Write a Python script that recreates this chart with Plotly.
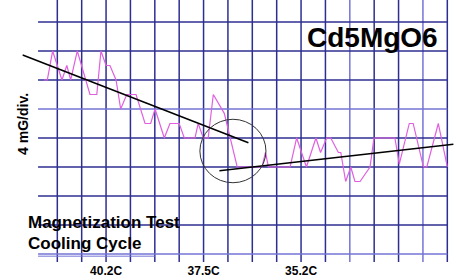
import plotly.graph_objects as go

# ---- data (x in grid divisions, y in mG; 4 mG per division) ----
x_div = [-0.55, -0.41, -0.19, 0.19, 0.39, 0.55, 0.82, 1.34, 1.62, 1.79, 2.00, 2.16,
         2.41, 2.60, 2.85, 3.23, 3.60, 3.83, 4.01, 4.39, 4.62, 5.00, 5.21, 5.65,
         5.78, 5.99, 6.19, 6.40, 6.85, 7.38, 7.50, 8.40, 8.54, 8.66, 9.55, 9.82,
         10.22, 10.61, 10.80, 11.05, 11.22, 11.53, 11.63, 11.83, 12.04, 12.21, 12.42,
         12.83, 12.99, 13.85, 14.03, 14.44, 14.60, 15.02, 15.16, 15.63, 16.00]
mag_mg = [24, 24, 28, 24, 26, 24, 28, 22, 22, 28, 26, 26,
          24, 20, 22, 22, 18, 18, 20, 16, 18, 18, 16, 16,
          18, 16, 16, 22, 19.4, 12, 12, 12, 14, 12, 12, 16,
          12, 16, 14, 16, 16, 14, 14, 10, 12, 10, 10,
          12, 16, 16, 12.4, 18, 18, 12, 12, 18, 12]

trend_high_x = [-1.42, 7.84]
trend_high_y = [27.45, 15.35]
trend_low_x = [6.65, 16.25]
trend_low_y = [11.49, 15.13]

circle_x = [5.85, 8.56]
circle_y = [9.83, 18.58]

tick_vals = [2, 6, 10]
tick_text = ["40.2C", "37.5C", "35.2C"]

grid_x = list(range(0, 17))
grid_y = list(range(0, 33, 4))

title_text = "Cd5MgO6"
note_lines = ["Magnetization Test", "Cooling Cycle"]
y_label = "4 mG/div."

# ---- figure ----
FONT = "Liberation Sans, Arial, sans-serif"
DARK = "#2e2e92"
LIGHT = "#7474d6"

fig = go.Figure()

shapes = []
light_v = {12, 15}
for gx in grid_x:
    shapes.append(dict(type="line", xref="x", yref="y", x0=gx, x1=gx, y0=-1.1, y1=36,
                       line=dict(color=LIGHT if gx in light_v else DARK, width=1.5), layer="below"))
light_h = {20, 0}
for gy in grid_y:
    shapes.append(dict(type="line", xref="x", yref="y", x0=-0.79, x1=16, y0=gy, y1=gy,
                       line=dict(color=LIGHT if gy in light_h else DARK, width=1.5), layer="below"))
shapes.append(dict(type="line", xref="x", yref="y", x0=-0.79, x1=4, y0=-0.3, y1=-0.3,
                   line=dict(color=LIGHT, width=1), layer="below"))
shapes.append(dict(type="circle", xref="x", yref="y", x0=circle_x[0], x1=circle_x[1],
                   y0=circle_y[0], y1=circle_y[1], line=dict(color="#333333", width=1)))

fig.add_trace(go.Scatter(x=x_div, y=mag_mg, mode="lines",
                         line=dict(color="#e060e0", width=1.2), hoverinfo="skip"))
fig.add_trace(go.Scatter(x=trend_high_x, y=trend_high_y, mode="lines",
                         line=dict(color="black", width=1.5), hoverinfo="skip"))
fig.add_trace(go.Scatter(x=trend_low_x, y=trend_low_y, mode="lines",
                         line=dict(color="black", width=1.5), hoverinfo="skip"))

annotations = [
    dict(text=title_text, x=15.70, y=29.8, xref="x", yref="y", xanchor="right", yanchor="middle",
         showarrow=False, font=dict(family=FONT, size=28, color="black", weight="bold")),
    dict(text=note_lines[0], x=-1.28, y=4.4, xref="x", yref="y", xanchor="left", yanchor="middle",
         showarrow=False, font=dict(family=FONT, size=17, color="black", weight="bold")),
    dict(text=note_lines[1], x=-1.28, y=1.45, xref="x", yref="y", xanchor="left", yanchor="middle",
         showarrow=False, font=dict(family=FONT, size=17, color="black", weight="bold")),
    dict(text=y_label, x=-1.39, y=18.0, xref="x", yref="y", xanchor="center", yanchor="middle",
         textangle=-90, showarrow=False,
         font=dict(family=FONT, size=14, color="black", weight="bold")),
]

fig.update_layout(
    width=475, height=277,
    margin=dict(l=0, r=0, t=0, b=15, pad=0),
    paper_bgcolor="white", plot_bgcolor="white",
    showlegend=False,
    shapes=shapes,
    annotations=annotations,
    xaxis=dict(range=[-2.351, 17.136], showgrid=False, zeroline=False, showline=False,
               tickvals=tick_vals, ticktext=tick_text, ticks="",
               tickfont=dict(family=FONT, size=12, color="black", weight="bold")),
    yaxis=dict(range=[-1.103, 35.03], showgrid=False, zeroline=False, showline=False,
               showticklabels=False, ticks=""),
)

fig.write_html("out.html", config={"displayModeBar": False})
